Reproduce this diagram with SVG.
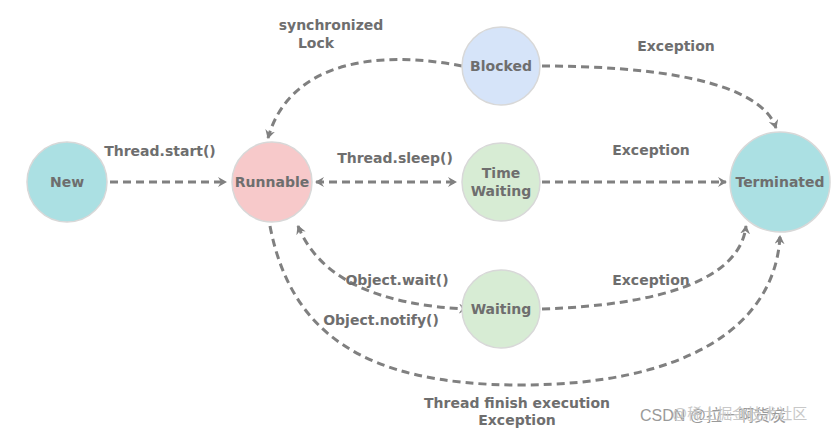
<svg xmlns="http://www.w3.org/2000/svg" width="835" height="436" viewBox="0 0 835 436">
<style>
.n{stroke:#d8d8d8;stroke-width:1.5}
.t{font-family:"DejaVu Sans",Verdana,sans-serif;font-weight:bold;font-size:14px;fill:#6e6e6e;text-anchor:middle}
.c{fill:none;stroke:#808080;stroke-width:3;stroke-dasharray:8 5}
</style>
<defs>
<marker id="a" markerWidth="10" markerHeight="10" refX="8" refY="5" orient="auto-start-reverse" markerUnits="userSpaceOnUse"><path d="M0,0 L9,5 L0,10 L3,5 Z" fill="#808080"/></marker>
</defs>
<rect width="835" height="436" fill="#fff"/>
<g id="connectors">
<path class="c" d="M110,182 L226,182" marker-end="url(#a)"/>
<path class="c" d="M462,66 C380,50 290,60 268,138" marker-end="url(#a)"/>
<path class="c" d="M542,66 C650,66 760,80 776,128" marker-end="url(#a)"/>
<path class="c" d="M316,182 L456,182" marker-start="url(#a)" marker-end="url(#a)"/>
<path class="c" d="M542,182 L726,182" marker-end="url(#a)"/>
<path class="c" d="M298,226 C320,280 380,305 467,309" marker-start="url(#a)" marker-end="url(#a)"/>
<path class="c" d="M542,309 C660,305 740,280 746,226" marker-end="url(#a)"/>
<path class="c" d="M270,226 C290,330 360,385 520,385 C680,385 775,330 780,236" marker-end="url(#a)"/>
</g>
<g id="new"><circle class="n" cx="67" cy="182" r="40" fill="#abe0e3"/><text class="t" x="67" y="187">New</text></g>
<g id="runnable"><circle class="n" cx="272" cy="182" r="40" fill="#f7c9ca"/><text class="t" x="272" y="187">Runnable</text></g>
<g id="blocked"><circle class="n" cx="501" cy="66" r="39" fill="#d6e4f9"/><text class="t" x="501" y="71">Blocked</text></g>
<g id="timewaiting"><circle class="n" cx="501" cy="182" r="39" fill="#d7ecd4"/><text class="t" x="501" y="178">Time</text><text class="t" x="501" y="196">Waiting</text></g>
<g id="waiting"><circle class="n" cx="501" cy="309" r="39" fill="#d7ecd4"/><text class="t" x="501" y="314">Waiting</text></g>
<g id="terminated"><circle class="n" cx="780" cy="182" r="50" fill="#abe0e3"/><text class="t" x="780" y="187">Terminated</text></g>
<g id="labels">
<text class="t" x="331" y="30">synchronized</text><text class="t" x="316" y="48">Lock</text>
<text class="t" x="676" y="51">Exception</text>
<text class="t" x="160" y="156">Thread.start()</text>
<text class="t" x="395" y="163">Thread.sleep()</text>
<text class="t" x="651" y="155">Exception</text>
<text class="t" x="397" y="285">Object.wait()</text>
<text class="t" x="381" y="325">Object.notify()</text>
<text class="t" x="651" y="285">Exception</text>
<text class="t" x="517" y="408">Thread finish execution</text>
<text class="t" x="517" y="425">Exception</text>
<text x="640" y="421" font-family="'Liberation Sans','Noto Sans CJK SC',sans-serif" font-size="16" fill="#9a9a9a">CSDN @拉一啊货炭</text>
<text x="672" y="419" font-family="'Liberation Sans','Noto Sans CJK SC',sans-serif" font-size="15" fill="#c8c8c8">@稀土掘金技术社区</text>
</g>
</svg>
